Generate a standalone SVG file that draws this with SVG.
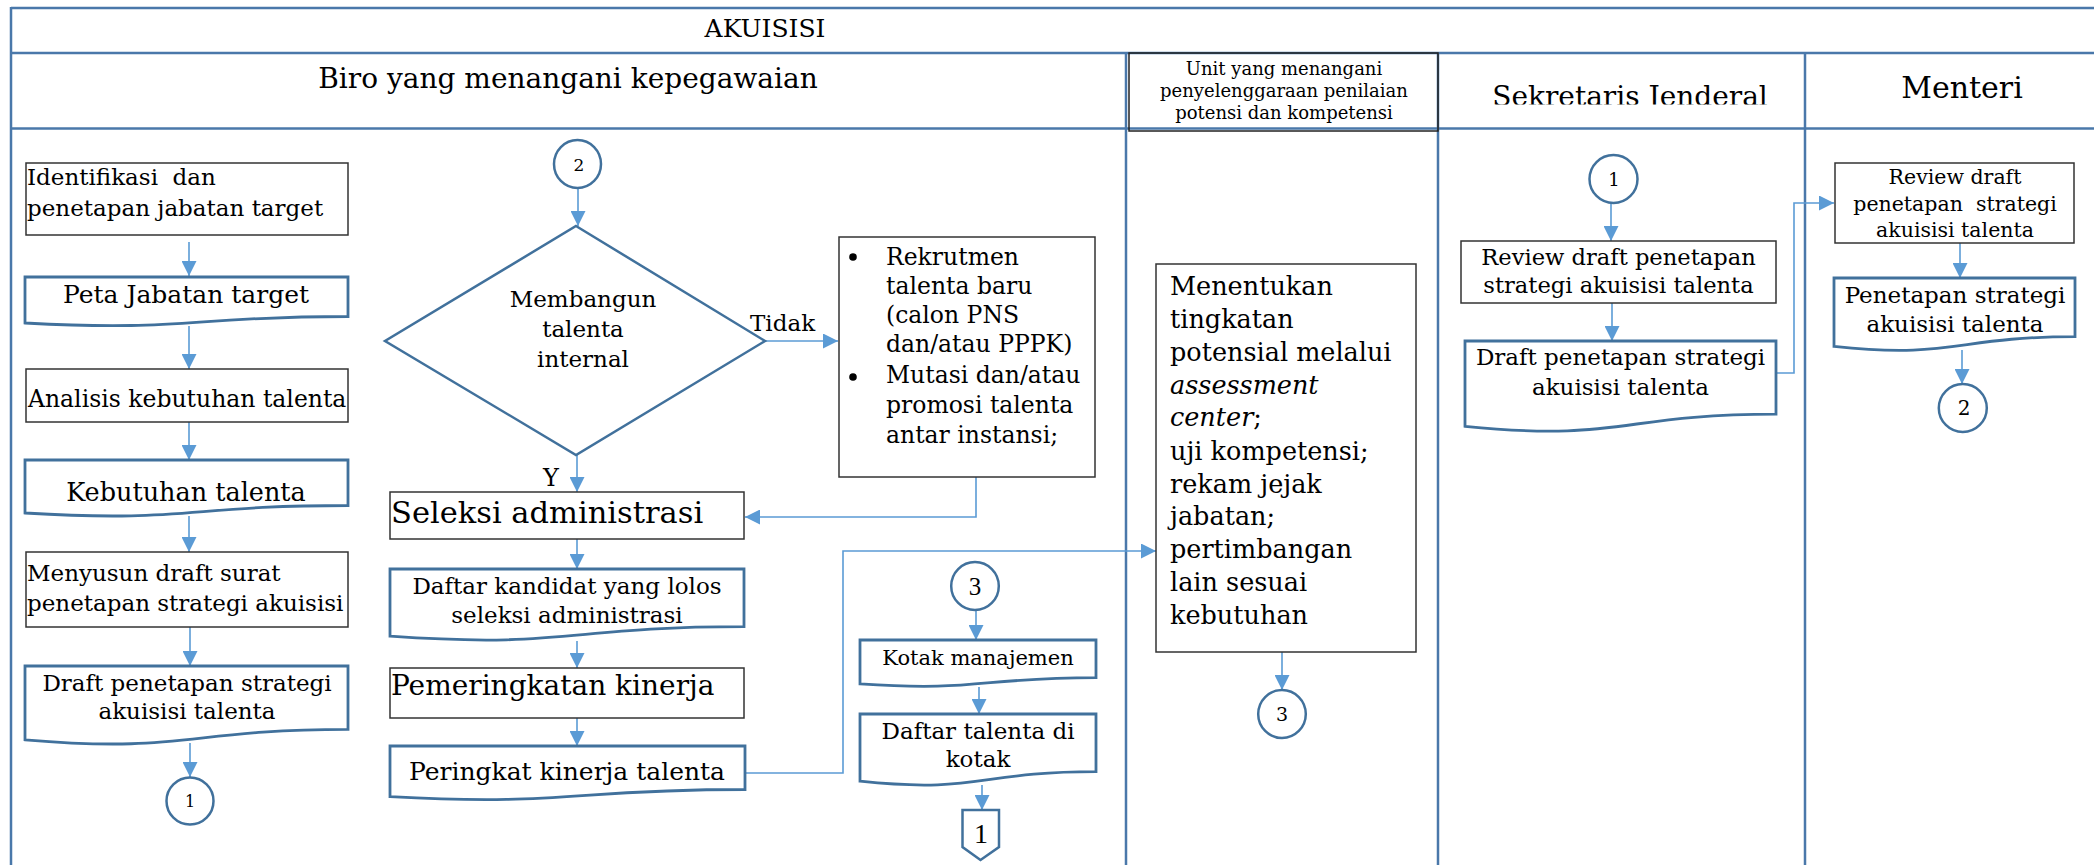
<svg xmlns="http://www.w3.org/2000/svg" width="2094" height="865" viewBox="0 0 2094 865">
<style>
.lane{stroke:#4a78aa;stroke-width:2.5;fill:none}
.box{fill:#fff;stroke:#333;stroke-width:1.5}
.doc{fill:#fff;stroke:#41719c;stroke-width:2.8}
.conn{fill:#fff;stroke:#41719c;stroke-width:2.5}
.arr{stroke:#5b9bd5;stroke-width:1.6;fill:none}
.t{font-family:"DejaVu Serif","Liberation Serif",serif;fill:#000;white-space:pre}
.c{text-anchor:middle}
.tm{font-family:"Liberation Serif","DejaVu Serif",serif;fill:#000}
</style>
<defs>
<marker id="ah" markerUnits="userSpaceOnUse" markerWidth="15" markerHeight="15" refX="15" refY="7.5" orient="auto">
<path d="M0,0 L15,7.5 L0,15 Z" fill="#5b9bd5"/>
</marker>
<clipPath id="sjclip"><rect x="1440" y="55" width="360" height="49.5"/></clipPath>
</defs>
<rect width="2094" height="865" fill="#fff"/>

<g id="lanes">
<line class="lane" x1="11" y1="8" x2="2094" y2="8"/>
<line class="lane" x1="11" y1="53" x2="2094" y2="53"/>
<line class="lane" x1="11" y1="128.5" x2="2094" y2="128.5" stroke-width="3.5"/>
<line class="lane" x1="11" y1="7" x2="11" y2="865"/>
<line class="lane" x1="1126" y1="53" x2="1126" y2="865"/>
<line class="lane" x1="1438" y1="53" x2="1438" y2="865"/>
<line class="lane" x1="1805" y1="53" x2="1805" y2="865"/>
<rect x="1129" y="53" width="309" height="78" fill="none" stroke="#222" stroke-width="1.5"/>
<text class="t c" x="765" y="37" font-size="25">AKUISISI</text>
<text class="t c" x="568" y="88" font-size="28">Biro yang menangani kepegawaian</text>
<text class="t c" x="1284" y="75" font-size="18">Unit yang menangani</text>
<text class="t c" x="1284" y="97" font-size="18">penyelenggaraan penilaian</text>
<text class="t c" x="1284" y="118.5" font-size="18">potensi dan kompetensi</text>
<text class="t c" x="1630" y="106" font-size="28" clip-path="url(#sjclip)">Sekretaris Jenderal</text>
<text class="t c" x="1962" y="98" font-size="30">Menteri</text>
</g>

<g id="connectors">
<line class="arr" x1="189" y1="242" x2="189" y2="276" marker-end="url(#ah)"/>
<line class="arr" x1="189" y1="326" x2="189" y2="369" marker-end="url(#ah)"/>
<line class="arr" x1="189" y1="422" x2="189" y2="460" marker-end="url(#ah)"/>
<line class="arr" x1="189" y1="516" x2="189" y2="552" marker-end="url(#ah)"/>
<line class="arr" x1="190" y1="627" x2="190" y2="666" marker-end="url(#ah)"/>
<line class="arr" x1="190" y1="743" x2="190" y2="777" marker-end="url(#ah)"/>
<line class="arr" x1="578" y1="188" x2="578" y2="226" marker-end="url(#ah)"/>
<line class="arr" x1="765" y1="341" x2="838" y2="341" marker-end="url(#ah)"/>
<line class="arr" x1="577" y1="455" x2="577" y2="492" marker-end="url(#ah)"/>
<polyline class="arr" points="976,477 976,517 745,517" marker-end="url(#ah)"/>
<line class="arr" x1="577" y1="539" x2="577" y2="569" marker-end="url(#ah)"/>
<line class="arr" x1="577" y1="641" x2="577" y2="668" marker-end="url(#ah)"/>
<line class="arr" x1="577" y1="718" x2="577" y2="746" marker-end="url(#ah)"/>
<polyline class="arr" points="745,773 843,773 843,551 1156,551" marker-end="url(#ah)"/>
<line class="arr" x1="976" y1="610" x2="976" y2="640" marker-end="url(#ah)"/>
<line class="arr" x1="979" y1="687" x2="979" y2="714" marker-end="url(#ah)"/>
<line class="arr" x1="982" y1="785" x2="982" y2="810" marker-end="url(#ah)"/>
<line class="arr" x1="1282" y1="652" x2="1282" y2="690" marker-end="url(#ah)"/>
<line class="arr" x1="1611" y1="203" x2="1611" y2="241" marker-end="url(#ah)"/>
<line class="arr" x1="1612" y1="303" x2="1612" y2="341" marker-end="url(#ah)"/>
<polyline class="arr" points="1767,373 1794,373 1794,203 1834,203" marker-end="url(#ah)"/>
<line class="arr" x1="1960" y1="243" x2="1960" y2="278" marker-end="url(#ah)"/>
<line class="arr" x1="1962" y1="350" x2="1962" y2="384" marker-end="url(#ah)"/>
<text class="t" x="750" y="331" font-size="23">Tidak</text>
<text class="t" x="543" y="486" font-size="24">Y</text>
</g>

<g id="n-identifikasi">
<rect class="box" x="26" y="163" width="322" height="72"/>
<text class="t" x="27" y="185" font-size="23">Identifikasi  dan</text>
<text class="t" x="27" y="216" font-size="23">penetapan jabatan target</text>
</g>
<g id="n-peta">
<path class="doc" d="M25,277 H348 V316.5 C186.5,316.5 186.5,331.6 25,323 Z"/>
<text class="t c" x="186" y="303" font-size="25">Peta Jabatan target</text>
</g>
<g id="n-analisis">
<rect class="box" x="26" y="369" width="322" height="53"/>
<text class="t" x="28" y="407" font-size="23.5">Analisis kebutuhan talenta</text>
</g>
<g id="n-kebutuhan">
<path class="doc" d="M25,460 H348 V505.5 C186.5,505.5 186.5,522.8 25,513 Z"/>
<text class="t c" x="186" y="501" font-size="25.5">Kebutuhan talenta</text>
</g>
<g id="n-menyusun">
<rect class="box" x="26" y="552" width="322" height="75"/>
<text class="t" x="27" y="581" font-size="23">Menyusun draft surat</text>
<text class="t" x="27" y="611" font-size="23">penetapan strategi akuisisi</text>
</g>
<g id="n-draft1">
<path class="doc" d="M25,666 H348 V729.4 C186.5,729.4 186.5,753.5 25,739.8 Z"/>
<text class="t c" x="187" y="691" font-size="23">Draft penetapan strategi</text>
<text class="t c" x="187" y="719" font-size="23">akuisisi talenta</text>
</g>
<g id="n-c1a">
<circle class="conn" cx="190" cy="801" r="23.5"/>
<text class="t c" x="190" y="807" font-size="16">1</text>
</g>

<g id="n-c2a">
<ellipse class="conn" cx="577.5" cy="164" rx="23.5" ry="24"/>
<text class="t c" x="579" y="171" font-size="17">2</text>
</g>
<g id="n-diamond">
<path class="conn" d="M576,226 L765,341 L576,455 L385,341 Z" fill="#fff"/>
<text class="t c" x="583" y="307" font-size="23">Membangun</text>
<text class="t c" x="583" y="337" font-size="23">talenta</text>
<text class="t c" x="583" y="367" font-size="23">internal</text>
</g>
<g id="n-rekrutmen">
<rect class="box" x="839" y="237" width="256" height="240"/>
<circle cx="853" cy="257" r="3.8" fill="#000"/>
<circle cx="853" cy="377" r="3.8" fill="#000"/>
<text class="t" x="886" y="265" font-size="23.5">Rekrutmen</text>
<text class="t" x="886" y="294" font-size="23.5">talenta baru</text>
<text class="t" x="886" y="323" font-size="23.5">(calon PNS</text>
<text class="t" x="886" y="352" font-size="23.5">dan/atau PPPK)</text>
<text class="t" x="886" y="383" font-size="23.5">Mutasi dan/atau</text>
<text class="t" x="886" y="413" font-size="23.5">promosi talenta</text>
<text class="t" x="886" y="443" font-size="23.5">antar instansi;</text>
</g>
<g id="n-seleksi">
<rect class="box" x="390" y="492" width="354" height="47"/>
<text class="t" x="391" y="523" font-size="30.5">Seleksi administrasi</text>
</g>
<g id="n-daftar-kandidat">
<path class="doc" d="M390,569 H744 V626.7 C567,626.7 567,648.7 390,636.2 Z"/>
<text class="t c" x="567" y="594" font-size="23">Daftar kandidat yang lolos</text>
<text class="t c" x="567" y="623" font-size="23">seleksi administrasi</text>
</g>
<g id="n-pemeringkatan">
<rect class="box" x="390" y="668" width="354" height="50"/>
<text class="t" x="391" y="695" font-size="28">Pemeringkatan kinerja</text>
</g>
<g id="n-peringkat">
<path class="doc" d="M390,746 H745 V789.5 C567.5,789.5 567.5,806.1 390,796.7 Z"/>
<text class="t c" x="567" y="780" font-size="25">Peringkat kinerja talenta</text>
</g>
<g id="n-c3a">
<ellipse class="conn" cx="975" cy="586" rx="23.8" ry="24"/>
<text class="tm c" x="975" y="595" font-size="25">3</text>
</g>
<g id="n-kotak">
<path class="doc" d="M860,640 H1096 V677.7 C978,677.7 978,692 860,683.9 Z"/>
<text class="t c" x="978" y="665" font-size="21">Kotak manajemen</text>
</g>
<g id="n-daftar-talenta">
<path class="doc" d="M860,714 H1096 V771.7 C978,771.7 978,793.7 860,781.2 Z"/>
<text class="t c" x="978" y="739" font-size="23">Daftar talenta di</text>
<text class="t c" x="978" y="767" font-size="23">kotak</text>
</g>
<g id="n-offpage1">
<path class="conn" d="M962.5,810 H999 V847 L980.5,860 L962.5,847 Z"/>
<text class="tm c" x="981" y="843" font-size="28">1</text>
</g>

<g id="n-menentukan">
<rect class="box" x="1156" y="264" width="260" height="388"/>
<text class="t" x="1170" y="295" font-size="25.5">Menentukan</text>
<text class="t" x="1170" y="328" font-size="25.5">tingkatan</text>
<text class="t" x="1170" y="361" font-size="25.5">potensial melalui</text>
<text class="t" x="1170" y="394" font-size="25.5" font-style="italic">assessment</text>
<text class="t" x="1170" y="426" font-size="25.5"><tspan font-style="italic">center</tspan>;</text>
<text class="t" x="1170" y="460" font-size="25.5">uji kompetensi;</text>
<text class="t" x="1170" y="493" font-size="25.5">rekam jejak</text>
<text class="t" x="1170" y="525" font-size="25.5">jabatan;</text>
<text class="t" x="1170" y="558" font-size="25.5">pertimbangan</text>
<text class="t" x="1170" y="591" font-size="25.5">lain sesuai</text>
<text class="t" x="1170" y="624" font-size="25.5">kebutuhan</text>
</g>
<g id="n-c3b">
<ellipse class="conn" cx="1282" cy="714" rx="23.8" ry="24"/>
<text class="t c" x="1282" y="721" font-size="19">3</text>
</g>

<g id="n-c1b">
<circle class="conn" cx="1613.5" cy="179" r="24"/>
<text class="t c" x="1614" y="186" font-size="18">1</text>
</g>
<g id="n-review-sj">
<rect class="box" x="1461" y="241" width="315" height="62"/>
<text class="t c" x="1618.5" y="265" font-size="22.6">Review draft penetapan</text>
<text class="t c" x="1618.5" y="293" font-size="22.6">strategi akuisisi talenta</text>
</g>
<g id="n-draft-sj">
<path class="doc" d="M1465,341 H1776 V414.2 C1620.5,414.2 1620.5,442.1 1465,426.3 Z"/>
<text class="t c" x="1620.5" y="365" font-size="23">Draft penetapan strategi</text>
<text class="t c" x="1620.5" y="395" font-size="23">akuisisi talenta</text>
</g>

<g id="n-review-m">
<rect class="box" x="1835" y="163" width="239" height="80"/>
<text class="t c" x="1955" y="184" font-size="20.5">Review draft</text>
<text class="t c" x="1955" y="211" font-size="20.5">penetapan  strategi</text>
<text class="t c" x="1955" y="237" font-size="20.5">akuisisi talenta</text>
</g>
<g id="n-penetapan">
<path class="doc" d="M1834,278 H2075 V336.7 C1954.5,336.7 1954.5,359.1 1834,346.4 Z"/>
<text class="t c" x="1955" y="303" font-size="23">Penetapan strategi</text>
<text class="t c" x="1955" y="332" font-size="23">akuisisi talenta</text>
</g>
<g id="n-c2b">
<circle class="conn" cx="1962.8" cy="408" r="24"/>
<text class="t c" x="1964" y="415" font-size="20">2</text>
</g>
</svg>
